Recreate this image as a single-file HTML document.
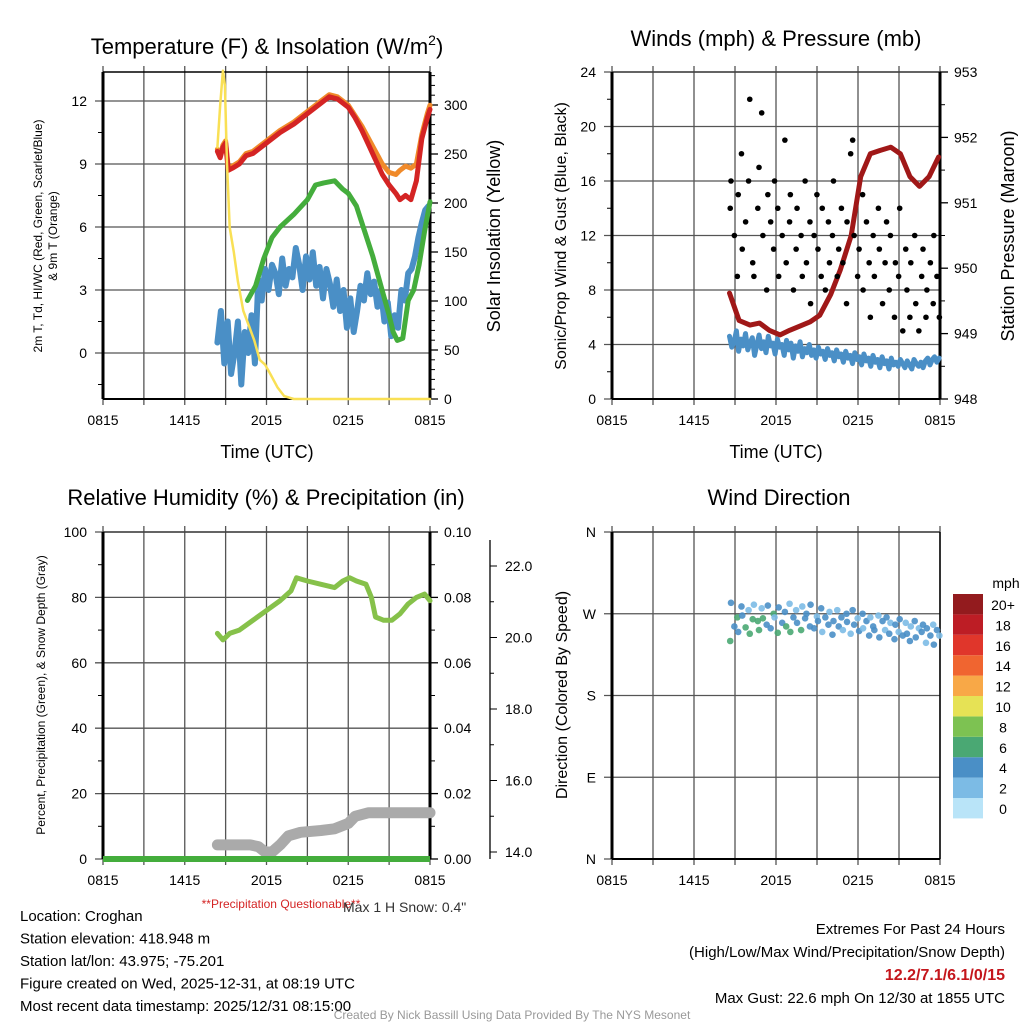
<!DOCTYPE html>
<html><head><meta charset="utf-8"><style>
body{margin:0;background:#fff}svg{display:block;font-family:"Liberation Sans",sans-serif}
</style></head><body>
<svg id="s" width="1024" height="1024" viewBox="0 0 1024 1024" xmlns="http://www.w3.org/2000/svg"></svg>
<script>
// ---------- DATA ----------
const xTickLabels=["0815","1415","2015","0215","0815"];
// Temperature panel (hours since 0815)
const tempT=[8.4,8.6,8.8,9.0,9.2,9.5,10,10.5,11,12,13,14,15,16,16.6,17.2,18,18.5,19,19.5,20,20.5,21,21.5,21.8,22.2,22.6,23,23.4,23.8,24];
const tempRed=[9.6,9.3,9.8,10.0,8.7,8.8,9.0,9.4,9.5,10.0,10.5,10.9,11.4,11.9,12.2,12.1,11.7,11.2,10.6,9.9,9.2,8.5,8.0,7.6,7.3,7.5,7.3,8.2,10.2,11.2,11.6];
const tempOrange=[9.7,9.4,9.9,10.1,8.8,8.9,9.1,9.5,9.6,10.1,10.6,11.0,11.5,12.0,12.3,12.2,11.8,11.3,10.8,10.2,9.6,9.0,8.6,8.5,8.7,8.9,8.8,9.0,10.4,11.4,11.8];
const greenT=[10.6,11.2,11.8,12.4,13,14,15,15.6,16.2,17,17.6,18,18.6,19.2,19.8,20.4,21,21.3,21.6,22,22.4,22.8,23.2,23.6,24];
const greenV=[2.5,3.2,4.5,5.5,6.0,6.6,7.3,8.0,8.1,8.2,7.8,7.6,7.0,5.8,4.6,3.2,1.8,1.0,0.6,0.7,2.5,3.0,4.2,5.8,7.2];
const dewStart=8.4, dewStep=0.25;
const dewV=[0.5,2,-0.5,1.5,-1,0,1.5,-1.5,1,0,1.8,-0.5,3.5,2.5,4,3,4.2,3.8,2.8,4.5,3.2,4,3.6,5,4.2,3,4.6,3.5,4.8,3.2,4.1,2.6,4,3.3,2.2,3.5,2,3,1.2,2.6,1,2,3.2,2.5,3.8,2.8,3.4,2.2,3,1.5,2.4,0.8,1.8,1.2,3,2.5,3.8,4,4.6,5.5,6.2,6.8,7];
const solarT=[8.4,8.6,8.8,8.95,9.1,9.3,9.6,9.9,10.3,10.7,11.1,11.5,11.9,12.3,12.8,13.3,14,24];
const solarV=[257,300,335,320,240,175,150,120,90,75,60,40,35,25,12,3,0,0];
// Winds panel
const windStart=8.6, windStep=1/6;
const gustV=[14,16,12,9,15,18,11,13,16,22,10,9,14,17,21,12,8,15,13,11,16,14,9,12,19,10,13,15,8,11,14,12,9,16,10,13,7,12,15,11,9,14,8,13,10,12,16,9,11,14,10,7,13,18,19,12,9,11,15,8,13,10,6,12,9,14,11,7,10,13,8,12,6,10,9,14,5,11,8,6,10,12,7,5,9,11,6,8,10,7,12,9,6];
const gustJitter=[0.05,-0.06,0.02,0.07,-0.03,0.04,-0.07,0.01,0.06,-0.02,0.03,-0.05,0.07,-0.01,0.02,-0.06,0.05,-0.03,0.01,0.06,-0.04,0.03,-0.07,0.02,0.05,-0.02,0.06,-0.05,0.01,0.04,-0.06,0.07,-0.01,0.03,-0.04,0.05,-0.07,0.02,0.06,-0.03,0.04,-0.05,0.01,0.07,-0.02,0.03,-0.06,0.05,-0.01,0.02,-0.04,0.06,-0.07,0.03,0.01,-0.05,0.04,-0.02,0.07,-0.06,0.02,0.05,-0.03,0.01,-0.07,0.06,-0.04,0.03,0.05,-0.01,0.02,-0.06,0.07,-0.03,0.04,-0.05,0.01,0.06,-0.02,0.03,-0.07,0.05,-0.04,0.02,0.06,-0.01,0.04,-0.06,0.03,0.07,-0.05,0.01,0.02];
const windV=[4.6,3.8,4.2,5.0,3.5,4.4,3.9,4.8,3.6,4.1,4.5,3.2,4.0,4.7,3.7,4.2,3.4,4.6,3.9,4.1,3.3,4.4,3.8,4.0,3.2,4.3,3.6,4.1,3.0,3.9,3.5,4.2,3.1,3.7,3.4,4.0,3.2,3.6,3.0,3.8,3.3,3.5,2.9,3.7,3.2,3.4,2.8,3.6,3.1,3.3,2.7,3.5,3.0,3.2,2.6,3.4,2.9,3.1,2.5,3.3,2.8,3.0,2.4,3.2,2.7,2.9,2.3,3.1,2.6,2.8,2.2,3.0,2.5,2.7,2.4,2.9,2.6,2.3,2.8,2.5,2.2,2.9,2.6,2.4,2.7,2.3,2.8,3.0,2.5,2.9,3.1,2.7,3.0];
const presT=[8.6,9.3,10.1,10.8,11.5,12.3,13,13.8,14.5,15.2,16,16.7,17.5,18.2,18.9,19.6,20.4,21.1,21.8,22.5,23.2,23.9];
const presV=[949.62,949.2,949.13,949.16,949.05,948.98,949.05,949.12,949.18,949.28,949.6,949.97,950.5,951.4,951.75,951.8,951.85,951.75,951.4,951.25,951.4,951.7];
// RH / precip / snow panel
const rhT=[8.4,8.8,9.3,10,11,12,13,13.8,14.2,15,16,17,17.6,18.1,18.6,19.3,19.7,20,20.6,21.2,21.8,22.4,23,23.6,24];
const rhV=[69,67,69,70,73,76,79,82,86,85,84,83,85,86,85,84,80,74,73,73,75,78,80,81,79];
const snowT=[8.4,9.5,10.8,11.4,11.9,12.4,13,13.6,14.5,16,17,18,18.5,19.5,20.5,21.5,22.5,24];
const snowV=[14.2,14.2,14.2,14.15,14.0,14.0,14.2,14.45,14.55,14.6,14.65,14.8,15.0,15.1,15.1,15.1,15.1,15.1];
const precipT=[0,24];
const precipV=[0,0];
// Direction panel
const dirV=[240,282,256,266,250,278,268,255,274,248,264,280,262,252,276,265,258,279,254,270,266,249,277,260,272,256,281,250,266,274,260,252,278,265,270,256,280,254,267,262,276,250,266,258,272,247,262,274,256,266,252,270,261,248,274,258,265,251,270,254,262,246,266,256,252,268,244,262,252,266,248,260,242,258,250,264,246,260,248,240,256,262,244,254,250,258,238,254,246,258,236,252,246];
const speedBins=["0","2","4","6","8","10","12","14","16","18","20+"];
const binColors=["#b9e4f8","#7cbbe5","#4a8fc6","#4aa873","#7dc252","#e6e255","#f8a847","#f06530","#e0362b","#bd1d25","#931b1e"];
const extremes="12.2/7.1/6.1/0/15";

// ---------- DRAW ----------
const S=document.getElementById('s');const NS="http://www.w3.org/2000/svg";
function mk(tag,a,name,parent){const e=document.createElementNS(NS,tag);for(const k in a)e.setAttribute(k,a[k]);


(parent||S).appendChild(e);return e;}
function txt(x,y,s,size,name,opt){opt=opt||{};const e=mk('text',{x:x,y:y,'font-size':size,fill:opt.fill||'#000','text-anchor':opt.anchor||'middle','font-weight':opt.weight||'normal'},name);
if(opt.rot)e.setAttribute('transform','rotate(-90 '+x+' '+y+')');e.textContent=s;return e;}
function lin(d0,d1,r0,r1){return v=>r0+(v-d0)*(r1-r0)/(d1-d0);}
function path(xs,ys,fx,fy,style,name){let d="";xs.forEach((t,i)=>{d+=(i?"L":"M")+fx(t).toFixed(1)+","+fy(ys[i]).toFixed(1);});
return mk('path',Object.assign({d:d,fill:'none','stroke-linejoin':'round','stroke-linecap':'round'},style),name);}
function frame(L,R,T,B,pfx){
  const fx=lin(0,24,L,R);
  for(let h=0;h<=24;h+=3){const x=fx(h);mk('line',{x1:x,x2:x,y1:T-6,y2:B+6,stroke:'#555','stroke-width':1.3},pfx+'-x-grid');}
  xTickLabels.forEach((s,i)=>txt(fx(i*6),B+26,s,14,pfx+'-x-tick-label'));
  mk('line',{x1:L,x2:R,y1:T,y2:T,stroke:'#000','stroke-width':1.5},pfx+'-top-border');
  return fx;
}
function leftAxis(L,R,T,B,ticks,fy,lbl,pfx,minor){
  ticks.forEach(v=>{const y=fy(v);mk('line',{x1:L-8,x2:R,y1:y,y2:y,stroke:'#555','stroke-width':1.3},pfx+'-y-grid');txt(L-16,y+5,lbl(v),14,pfx+'-y-tick-label',{anchor:'end'});});
  (minor||[]).forEach(v=>{const y=fy(v);mk('line',{x1:L-5,x2:L,y1:y,y2:y,stroke:'#000'},pfx+'-y-minor-tick');});
  mk('line',{x1:L,x2:L,y1:T,y2:B,stroke:'#000','stroke-width':3},pfx+'-y-axis');
  mk('line',{x1:L,x2:R,y1:B,y2:B,stroke:'#000','stroke-width':2},pfx+'-x-axis');
}
function rightAxis(X,T,B,ticks,fy,lbl,pfx,minor){
  mk('line',{x1:X,x2:X,y1:T,y2:B,stroke:'#000','stroke-width':3},pfx+'-right-axis');
  ticks.forEach(v=>{const y=fy(v);mk('line',{x1:X,x2:X+8,y1:y,y2:y,stroke:'#000','stroke-width':1.3},pfx+'-right-tick');txt(X+14,y+5,lbl(v),14,pfx+'-right-tick-label',{anchor:'start'});});
  (minor||[]).forEach(v=>{const y=fy(v);mk('line',{x1:X,x2:X+5,y1:y,y2:y,stroke:'#000'},pfx+'-right-minor-tick');});
}
const rng=(a,b,s)=>{const r=[];for(let v=a;v<=b+1e-9;v+=s)r.push(+v.toFixed(4));return r;};

// Panel 1
{const L=103,R=430,T=72,B=399;const fx=frame(L,R,T,B,'temp');
 const fy=lin(0,12,353,101),fs=lin(0,300,399,105);
 leftAxis(L,R,T,B,[0,3,6,9,12],fy,v=>v,'temp',[-1.5,1.5,4.5,7.5,10.5]);
 rightAxis(R,T,B,rng(0,300,50),fs,v=>v,'solar',rng(10,330,10));
 const dx=dewV.map((v,i)=>dewStart+i*dewStep);
 path(dx,dewV,fx,fy,{stroke:'#4a8fc6','stroke-width':6},'dewpoint-line');
 path(greenT,greenV,fx,fy,{stroke:'#44ad3c','stroke-width':5},'dewpoint-green-line');
 path(tempT,tempOrange,fx,fy,{stroke:'#f08a2a','stroke-width':5},'temp-9m-orange-line');
 path(tempT,tempRed,fx,fy,{stroke:'#d42424','stroke-width':5},'temp-2m-red-line');
 path(solarT,solarV,fx,fs,{stroke:'#f9e055','stroke-width':2.5},'solar-insolation-line');
 const t=txt(267,54,'Temperature (F) & Insolation (W/m',22,'temp-panel-title');const sp=document.createElementNS(NS,'tspan');sp.setAttribute('font-size',14);sp.setAttribute('dy',-9);sp.textContent='2';t.appendChild(sp);const sp2=document.createElementNS(NS,'tspan');sp2.setAttribute('dy',9);sp2.textContent=')';t.appendChild(sp2);
 txt(267,458,'Time (UTC)',18,'temp-x-axis-title');
 txt(42,236,'2m T, Td, HI/WC (Red, Green, Scarlet/Blue)',12,'temp-y-axis-title',{rot:1});
 txt(57,236,'& 9m T (Orange)',12,'temp-y-axis-title-2',{rot:1});
 txt(500,236,'Solar Insolation (Yellow)',18,'solar-axis-title',{rot:1});
}
// Panel 2
{const L=612,R=940,T=72,B=399;const fx=frame(L,R,T,B,'wind');
 const fy=lin(0,24,399,72),fp=lin(948,953,399,72);
 leftAxis(L,R,T,B,rng(0,24,4),fy,v=>v,'wind',rng(2,22,4));
 rightAxis(R,T,B,rng(948,953,1),fp,v=>v,'pressure',rng(948.5,952.5,1));
 const wx=windV.map((v,i)=>windStart+i*windStep);
 path(wx,windV,fx,fy,{stroke:'#4a8fc6','stroke-width':5},'wind-speed-line');
 path(presT,presV,fx,fp,{stroke:'#a01818','stroke-width':5},'pressure-line');
 gustV.forEach((v,i)=>mk('circle',{cx:fx(windStart+i*windStep+gustJitter[i]),cy:fy(v),r:2.8,fill:'#000'},'gust-point'));
 txt(776,46,'Winds (mph) & Pressure (mb)',22,'wind-panel-title');
 txt(776,458,'Time (UTC)',18,'wind-x-axis-title');
 txt(566,236,'Sonic/Prop Wind & Gust (Blue, Black)',16,'wind-y-axis-title',{rot:1});
 txt(1014,236,'Station Pressure (Maroon)',18,'pressure-axis-title',{rot:1});
}
// Panel 3
{const L=103,R=430,T=532,B=859;const fx=frame(L,R,T,B,'rh');
 const fy=lin(0,100,859,532),fpr=lin(0,0.1,859,532),fsn=lin(14,22,852,566);
 leftAxis(L,R,T,B,rng(0,100,20),fy,v=>v,'rh',rng(10,90,20));
 rightAxis(R,T,B,rng(0,0.1,0.02),fpr,v=>v.toFixed(2),'precip',rng(0.01,0.09,0.02));
 mk('line',{x1:490,x2:490,y1:540,y2:859,stroke:'#000','stroke-width':1.3},'snow-axis');
 rng(14,22,2).forEach(v=>{mk('line',{x1:490,x2:497,y1:fsn(v),y2:fsn(v),stroke:'#000'},'snow-tick');txt(505,fsn(v)+5,v.toFixed(1),14,'snow-tick-label',{anchor:'start'});});
 rng(15,21,2).forEach(v=>mk('line',{x1:490,x2:494,y1:fsn(v),y2:fsn(v),stroke:'#000'},'snow-minor-tick'));
 path(snowT,snowV,fx,fsn,{stroke:'#aaaaaa','stroke-width':11},'snow-depth-line');
 path(precipT,precipV,fx,fpr,{stroke:'#44ad3c','stroke-width':6,'stroke-linecap':'butt'},'precip-line');
 path(rhT,rhV,fx,fy,{stroke:'#86c14a','stroke-width':5},'rh-line');
 txt(266,505,'Relative Humidity (%) & Precipitation (in)',22,'rh-panel-title');
 txt(45,695,'Percent, Precipitation (Green), & Snow Depth (Gray)',12,'rh-y-axis-title',{rot:1});
}
// Panel 4
{const L=612,R=940,T=532,B=859;const fx=frame(L,R,T,B,'dir');
 const fy=lin(0,360,859,532);const names=["N","E","S","W","N"];
 leftAxis(L,R,T,B,[0,90,180,270,360],fy,v=>names[v/90],'dir');
 mk('line',{x1:R,x2:R,y1:T,y2:B,stroke:'#000','stroke-width':1.5},'dir-right-border');
 dirV.forEach((v,i)=>{const sp=windV[i]||3;const bi=Math.min(10,Math.floor(sp/2)+(i%3!=2?1:0));
   mk('circle',{cx:fx(windStart+i*windStep+gustJitter[i]),cy:fy(v),r:3.3,fill:binColors[bi],opacity:0.9},'direction-point');});
 txt(779,505,'Wind Direction',22,'dir-panel-title');
 txt(567,695,'Direction (Colored By Speed)',16,'dir-y-axis-title',{rot:1});
 txt(1006,588,'mph',14,'colorbar-title');
 for(let i=0;i<11;i++){const y=594+(10-i)*20.4;mk('rect',{x:953,y:y,width:30,height:20.4,fill:binColors[i]},'colorbar-swatch');txt(1003,y+16,speedBins[i],14,'colorbar-label');}
}
// Footer text
const info=["Location: Croghan","Station elevation: 418.948 m","Station lat/lon: 43.975; -75.201","Figure created on Wed, 2025-12-31, at 08:19 UTC","Most recent data timestamp: 2025/12/31 08:15:00"];
info.forEach((s,i)=>txt(20,921+i*22.5,s,15,'station-info-line',{anchor:'start'}));
txt(281,908,'**Precipitation Questionable**',12,'precip-warning',{fill:'#d42424'});
txt(343,912,'Max 1 H Snow: 0.4"',14,'max-snow-note',{anchor:'start',fill:'#333'});
txt(1005,934,'Extremes For Past 24 Hours',15,'extremes-title',{anchor:'end'});
txt(1005,957,'(High/Low/Max Wind/Precipitation/Snow Depth)',15,'extremes-subtitle',{anchor:'end'});
txt(1005,980,extremes,16,'extremes-values',{anchor:'end',fill:'#c4161c',weight:'bold'});
txt(1005,1003,'Max Gust: 22.6 mph On 12/30 at 1855 UTC',15,'max-gust',{anchor:'end'});
txt(512,1019,'Created By Nick Bassill Using Data Provided By The NYS Mesonet',12,'credit',{fill:'#999'});
</script>
</body></html>
